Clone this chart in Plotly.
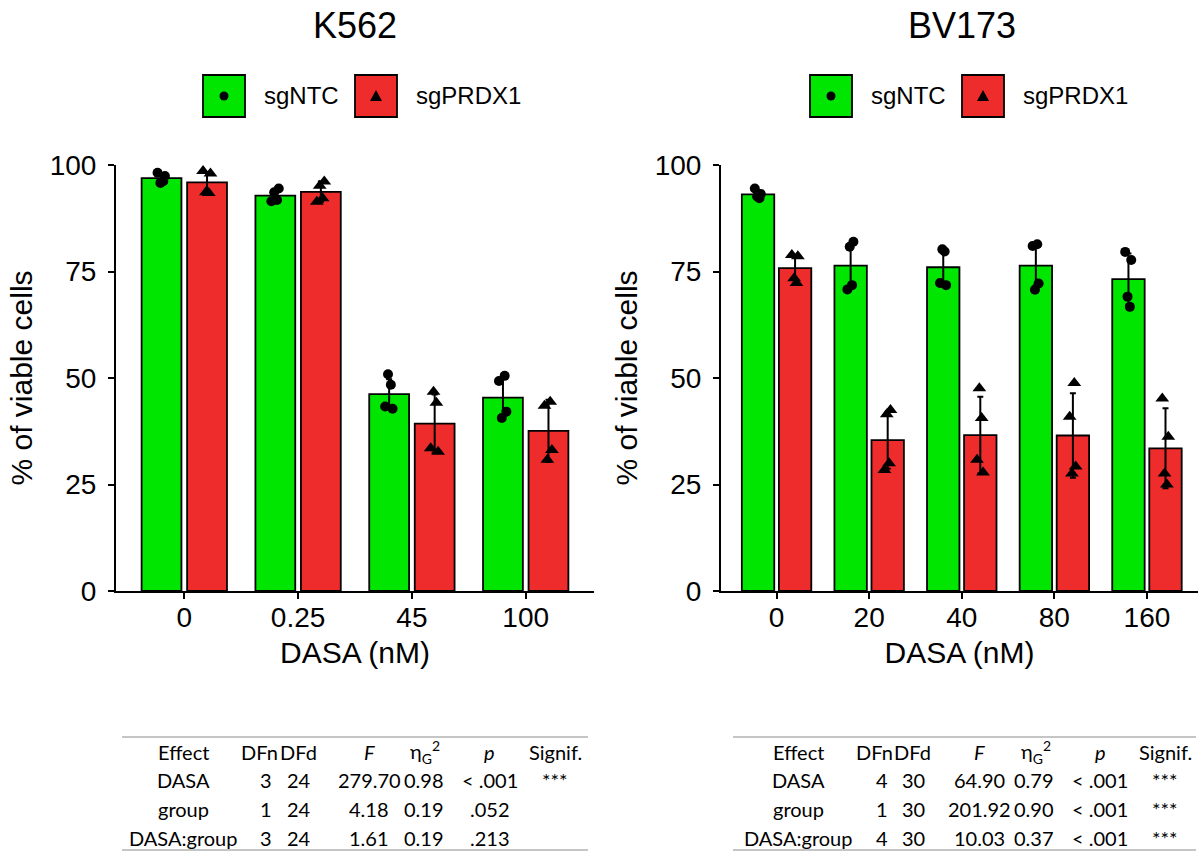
import plotly.graph_objects as go

# ---------------- data ----------------
k562_doses = ["0", "0.25", "45", "100"]
k562_ntc_mean = [96.9, 92.8, 46.2, 45.4]
k562_ntc_sd = [1.0, 1.2, 3.5, 4.5]
k562_prdx_mean = [95.9, 93.7, 39.3, 37.6]
k562_prdx_sd = [2.3, 2.4, 6.8, 7.3]
k562_ntc_reps = [
    [98.2, 97.4, 95.8, 96.2],
    [94.5, 93.6, 91.8, 91.5],
    [50.9, 48.4, 43.3, 42.8],
    [50.5, 49.3, 42.1, 40.6],
]
k562_prdx_reps = [
    [98.6, 98.0, 93.6, 93.4],
    [96.1, 95.1, 92.2, 91.4],
    [46.8, 44.2, 33.5, 32.7],
    [44.4, 43.5, 33.1, 30.8],
]

bv_doses = ["0", "20", "40", "80", "160"]
bv_ntc_mean = [93.1, 76.4, 76.0, 76.4, 73.2]
bv_ntc_sd = [0.9, 4.4, 4.0, 4.6, 6.0]
bv_prdx_mean = [75.8, 35.4, 36.6, 36.5, 33.5]
bv_prdx_sd = [2.7, 6.7, 9.0, 9.9, 9.4]
bv_ntc_reps = [
    [94.5, 93.2, 92.6, 92.2],
    [82.0, 80.8, 71.8, 70.8],
    [80.2, 79.7, 72.3, 71.8],
    [81.4, 81.0, 72.2, 70.7],
    [79.6, 77.7, 69.1, 66.7],
]
bv_prdx_reps = [
    [78.9, 78.6, 73.4, 72.3],
    [42.5, 41.5, 30.0, 28.4],
    [47.6, 40.6, 30.8, 27.8],
    [48.8, 40.9, 29.2, 27.6],
    [45.2, 36.2, 27.6, 25.0],
]

y_ticks = [0, 25, 50, 75, 100]
groups = ["sgNTC", "sgPRDX1"]

table_header = ["Effect", "DFn", "DFd", "<i>F</i>", "η<sub>G</sub><sup>2</sup>", "<i>p</i>", "Signif."]
k562_table = [
    ["DASA", "3", "24", "279.70", "0.98", "< .001", "***"],
    ["group", "1", "24", "4.18", "0.19", ".052", ""],
    ["DASA:group", "3", "24", "1.61", "0.19", ".213", ""],
]
bv_table = [
    ["DASA", "4", "30", "64.90", "0.79", "< .001", "***"],
    ["group", "1", "30", "201.92", "0.90", "< .001", "***"],
    ["DASA:group", "4", "30", "10.03", "0.37", "< .001", "***"],
]

# ---------------- styling ----------------
W, H = 1198, 852
GREEN = "#00E600"
RED = "#EE2C2C"
FONT = "Liberation Sans, Arial, sans-serif"
TFONT = "Lato, Carlito, Calibri, sans-serif"
DODGE = 0.2
BAR_W = 0.35
JIT = [-0.035, 0.03, -0.01, 0.015]


def px(x):
    return x / W


def py(y):
    return 1 - y / H


fig = go.Figure()


def add_panel(doses, ntc_m, ntc_sd, prdx_m, prdx_sd, ntc_reps, prdx_reps, xa, ya):
    idx = list(range(len(doses)))
    sets = [
        (ntc_m, ntc_sd, ntc_reps, GREEN, -1, "circle", 10),
        (prdx_m, prdx_sd, prdx_reps, RED, 1, "triangle-up", 12),
    ]
    for name, (m, sd, reps, col, side, sym, msz) in zip(groups, sets):
        fig.add_trace(go.Bar(
            x=idx, y=m, width=BAR_W, offset=side * DODGE - BAR_W / 2,
            marker=dict(color=col, line=dict(color="black", width=1.8)),
            xaxis=xa, yaxis=ya, showlegend=False, name=name,
        ))
    for name, (m, sd, reps, col, side, sym, msz) in zip(groups, sets):
        px_, py_ = [], []
        for g, vals in enumerate(reps):
            for r, v in enumerate(vals):
                px_.append(g + side * DODGE + JIT[(r + g) % 4])
                py_.append(v)
        fig.add_trace(go.Scatter(
            x=px_, y=py_, mode="markers",
            marker=dict(symbol=sym, size=msz, color="black"),
            xaxis=xa, yaxis=ya, showlegend=False, cliponaxis=False, name=name,
        ))
        fig.add_trace(go.Scatter(
            x=[i + side * DODGE for i in idx], y=m, mode="markers",
            marker=dict(size=1, opacity=0),
            error_y=dict(type="data", array=sd, color="black", thickness=2, width=3),
            xaxis=xa, yaxis=ya, showlegend=False, cliponaxis=False, name=name,
        ))


add_panel(k562_doses, k562_ntc_mean, k562_ntc_sd, k562_prdx_mean, k562_prdx_sd,
          k562_ntc_reps, k562_prdx_reps, "x", "y")
add_panel(bv_doses, bv_ntc_mean, bv_ntc_sd, bv_prdx_mean, bv_prdx_sd,
          bv_ntc_reps, bv_prdx_reps, "x2", "y2")

ydom = [py(591), py(165)]
axis_common = dict(
    showline=True, linecolor="black", linewidth=2, ticks="outside", ticklen=6,
    tickwidth=2, tickcolor="black", showgrid=False, zeroline=False,
    tickfont=dict(family=FONT, size=28, color="black"), automargin=False,
)
xtitle = dict(text="DASA (nM)", font=dict(family=FONT, size=30, color="black"), standoff=10)
ytitle = dict(text="% of viable cells", font=dict(family=FONT, size=30, color="black"), standoff=8)
fig.update_layout(
    xaxis=dict(domain=[px(116), px(594)], range=[-0.6, 3.6], anchor="y",
               tickvals=list(range(len(k562_doses))), ticktext=k562_doses,
               title=xtitle, ticklabelstandoff=-6, **axis_common),
    yaxis=dict(domain=ydom, range=[0, 100], anchor="x", tickvals=y_ticks,
               title=ytitle, ticklabelstandoff=6, **axis_common),
    xaxis2=dict(domain=[px(721), 1.0], range=[-0.6, 4.551], anchor="y2",
                tickvals=list(range(len(bv_doses))), ticktext=bv_doses,
                title=xtitle, ticklabelstandoff=-6, **axis_common),
    yaxis2=dict(domain=ydom, range=[0, 100], anchor="x2", tickvals=y_ticks,
                title=ytitle, ticklabelstandoff=6, **axis_common),
    barmode="overlay",
    width=W, height=H, autosize=False,
    margin=dict(l=0, r=0, t=0, b=0),
    plot_bgcolor="white", paper_bgcolor="white",
    showlegend=False,
)

shapes = []
annotations = []

# panel titles and legends
for title, cx in [("K562", 355), ("BV173", 962)]:
    annotations.append(dict(text=title, x=px(cx), y=py(25), xref="paper", yref="paper",
                            showarrow=False, xanchor="center", yanchor="middle",
                            font=dict(family=FONT, size=36, color="black")))
    cy = 96
    for gname, col, bx in [(groups[0], GREEN, cx - 152), (groups[1], RED, cx)]:
        shapes.append(dict(type="rect", xref="paper", yref="paper",
                           x0=px(bx), x1=px(bx + 42), y0=py(cy + 21), y1=py(cy - 21),
                           fillcolor=col, line=dict(color="black", width=1.8)))
        mx = bx + 21
        if col == GREEN:
            shapes.append(dict(type="circle", xref="paper", yref="paper",
                               x0=px(mx - 4.5), x1=px(mx + 4.5), y0=py(cy + 4.5), y1=py(cy - 4.5),
                               fillcolor="black", line=dict(color="black", width=0)))
        else:
            path = (f"M {px(mx - 6)} {py(cy + 5)} L {px(mx + 6)} {py(cy + 5)} "
                    f"L {px(mx)} {py(cy - 6)} Z")
            shapes.append(dict(type="path", xref="paper", yref="paper", path=path,
                               fillcolor="black", line=dict(color="black", width=0)))
        annotations.append(dict(text=gname, x=px(bx + 59), y=py(cy), xref="paper", yref="paper",
                                showarrow=False, xanchor="left", yanchor="middle",
                                font=dict(family=FONT, size=24, color="black")))

# ANOVA tables: separate x centres for the header row and the body rows
row_y = [752, 780, 809, 838]
for rows, hcols, bcols, (lx0, lx1) in [
    (k562_table, [183, 259, 298, 369, 425, 489, 555],
     [183, 266, 299, 369, 424, 490, 555], (122, 588)),
    (bv_table, [798, 874, 913, 980, 1036, 1100, 1165],
     [798, 882, 914, 979, 1034, 1100, 1165], (733, 1196)),
]:
    for yline in (737, 850):
        shapes.append(dict(type="line", xref="paper", yref="paper",
                           x0=px(lx0), x1=px(lx1), y0=py(yline), y1=py(yline),
                           line=dict(color="#8c8c8c", width=1.2)))
    for r, row in enumerate([table_header] + rows):
        cols = hcols if r == 0 else bcols
        for c, cell in enumerate(row):
            if not cell:
                continue
            annotations.append(dict(text=cell, x=px(cols[c]), y=py(row_y[r]),
                                    xref="paper", yref="paper", showarrow=False,
                                    xanchor="center", yanchor="middle",
                                    font=dict(family=TFONT, size=20, color="black")))

fig.update_layout(shapes=shapes, annotations=annotations)
fig.write_html("out.html")
